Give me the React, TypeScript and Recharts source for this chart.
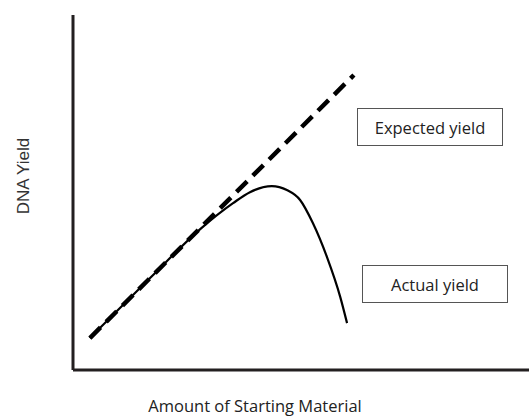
import { ComposedChart, Line, XAxis, YAxis } from "recharts";

// amount of starting material (arbitrary units) vs DNA yield
const expectedAmount = [3.7, 61.6];
const expectedYield = [9.0, 83.1];

const actualAmount = [3.7, 16.9, 27.9, 35.1, 38.8, 43.6, 46.9, 49.8, 52.6, 55.7, 58.6, 60.1];
const actualYield = [9.0, 25.9, 39.7, 47.0, 50.1, 51.8, 50.7, 47.9, 41.4, 31.8, 20.6, 13.2];

const expectedData = expectedAmount.map((x, i) => ({ x, y: expectedYield[i] }));
const actualData = actualAmount.map((x, i) => ({ x, y: actualYield[i] }));

const boxFont = "'Open Sans', sans-serif";

function NoteBox({ left, top, text }: { left: number; top: number; text: string }) {
  return (
    <div
      style={{
        position: "absolute",
        left,
        top,
        width: 146,
        height: 38,
        boxSizing: "border-box",
        border: "1px solid #555",
        background: "#fff",
        display: "flex",
        alignItems: "center",
        justifyContent: "center",
        fontFamily: boxFont,
        fontSize: 16.5,
        color: "#222",
      }}
    >
      {text}
    </div>
  );
}

export default function App() {
  return (
    <div style={{ position: "absolute", left: 0, top: 0, width: 529, height: 417, background: "#fff" }}>
      <ComposedChart width={529} height={417} margin={{ top: 15, right: 0, bottom: 0, left: 0 }}>
        <XAxis
          type="number"
          dataKey="x"
          domain={[0, 100]}
          height={47}
          tick={false}
          tickLine={false}
          axisLine={{ stroke: "#231f20", strokeWidth: 3 }}
          label={{
            content: () => (
              <text x={255} y={412} textAnchor="middle" fontFamily={boxFont} fontSize={16.5} fill="#222">
                Amount of Starting Material
              </text>
            ),
          }}
        />
        <YAxis
          type="number"
          dataKey="y"
          domain={[0, 100]}
          width={73}
          tick={false}
          tickLine={false}
          axisLine={{ stroke: "#231f20", strokeWidth: 3 }}
          label={{
            content: () => (
              <text
                x={23}
                y={176}
                transform="rotate(-90 23 176)"
                textAnchor="middle"
                dominantBaseline="central"
                fontFamily="'Liberation Sans', Arial, sans-serif"
                fontSize={17}
                fill="#333"
              >
                DNA Yield
              </text>
            ),
          }}
        />
        <Line
          data={expectedData}
          dataKey="y"
          type="linear"
          stroke="#000"
          strokeWidth={4.5}
          strokeDasharray="15 8"
          dot={false}
          isAnimationActive={false}
        />
        <Line
          data={actualData}
          dataKey="y"
          type="monotone"
          stroke="#000"
          strokeWidth={2.2}
          dot={false}
          isAnimationActive={false}
        />
      </ComposedChart>
      <NoteBox left={357} top={108} text="Expected yield" />
      <NoteBox left={362} top={265} text="Actual yield" />
    </div>
  );
}
